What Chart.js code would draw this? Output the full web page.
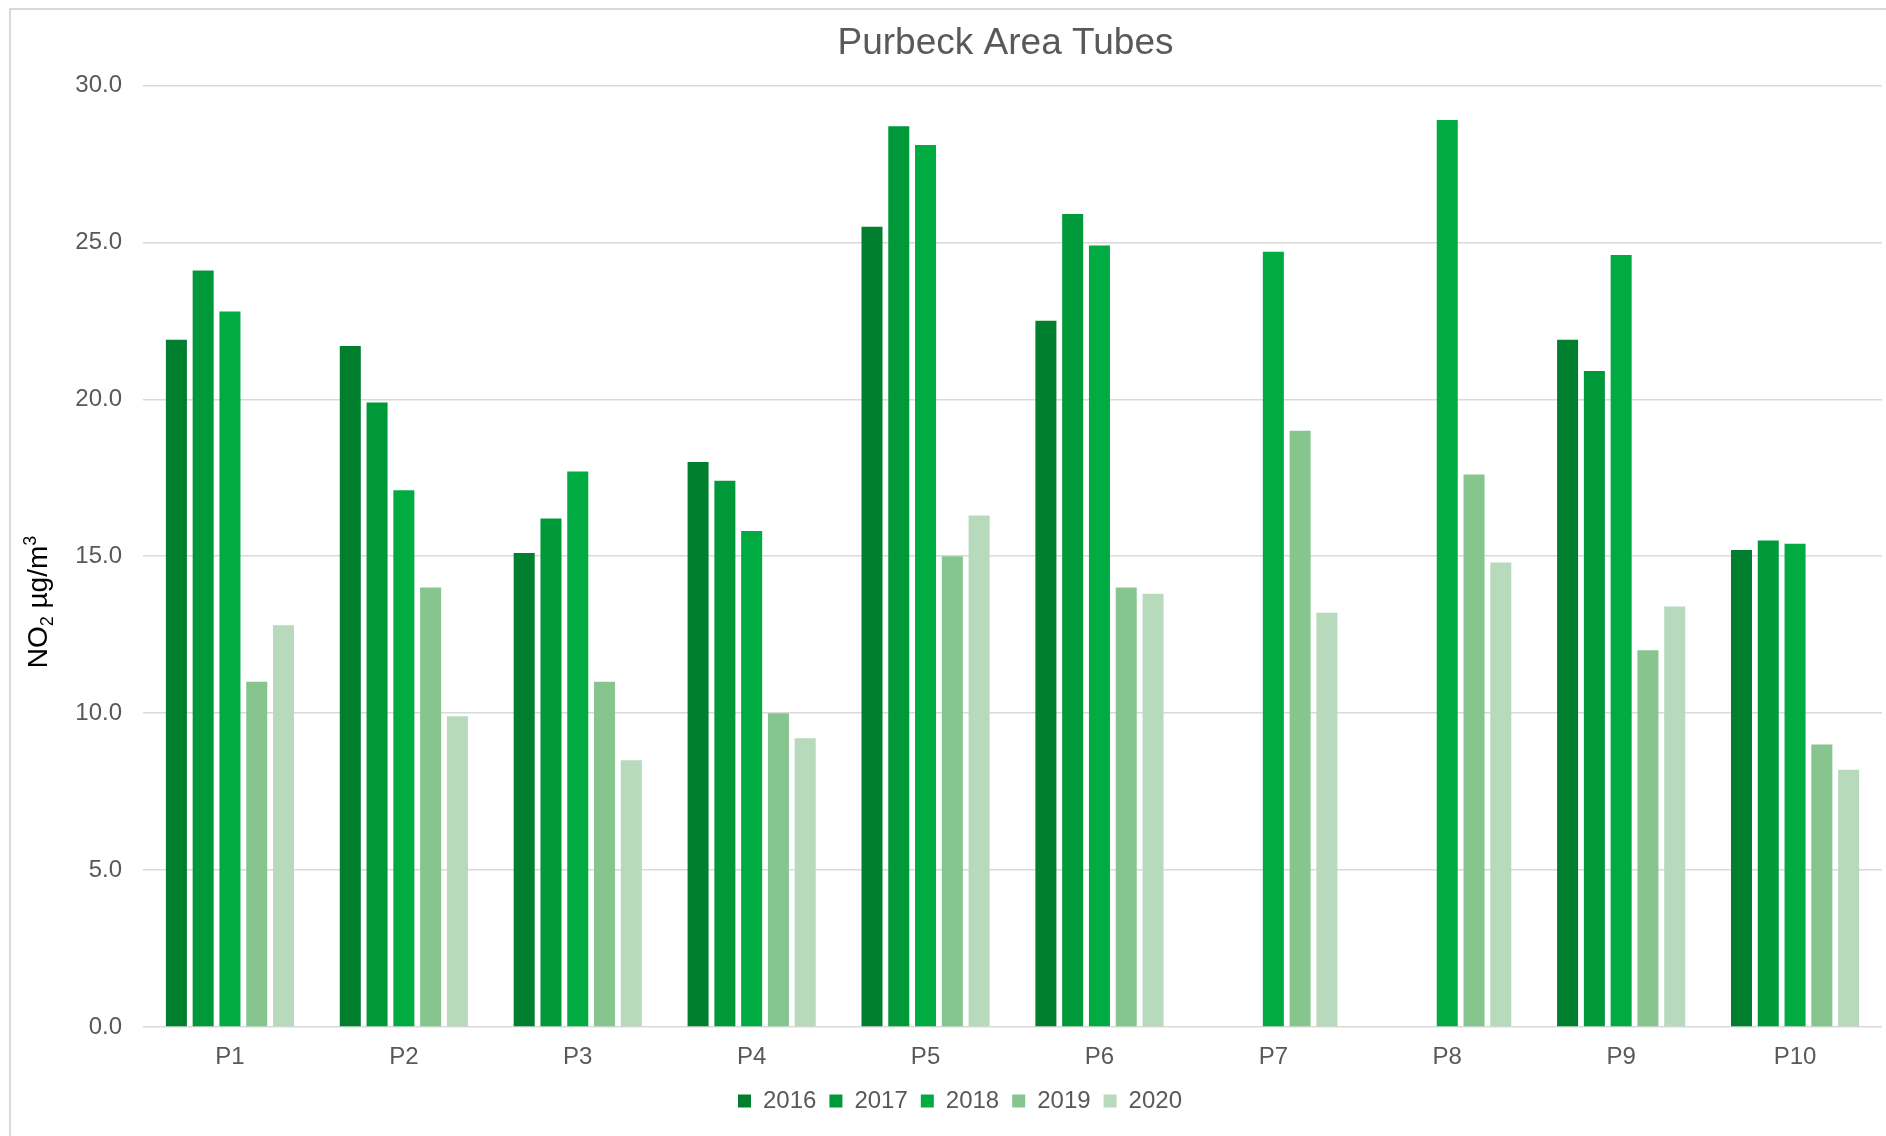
<!DOCTYPE html>
<html>
<head>
<meta charset="utf-8">
<title>Purbeck Area Tubes</title>
<script src="https://cdn.jsdelivr.net/npm/chart.js@4.4.0/dist/chart.umd.min.js"></script>
<style>
    html, body { margin: 0; padding: 0; background: #ffffff; overflow: hidden; }
    #wrap { position: relative; width: 1886px; height: 1136px; }
    #frame {
        position: absolute; left: 9px; top: 8px; width: 1920px; height: 1200px;
        border: 2px solid #d9d9d9; pointer-events: none;
    }
</style>
</head>
<body>
<div id="wrap">
    <canvas id="tubes" width="1886" height="1136"></canvas>
    <div id="frame"></div>
</div>
<script>
'use strict';

// Annual mean NO2 per diffusion tube site
const sites = ['P1', 'P2', 'P3', 'P4', 'P5', 'P6', 'P7', 'P8', 'P9', 'P10'];

const no2_2016 = [21.9, 21.7, 15.1, 18.0, 25.5, 22.5, null, null, 21.9, 15.2];
const no2_2017 = [24.1, 19.9, 16.2, 17.4, 28.7, 25.9, null, null, 20.9, 15.5];
const no2_2018 = [22.8, 17.1, 17.7, 15.8, 28.1, 24.9, 24.7, 28.9, 24.6, 15.4];
const no2_2019 = [11.0, 14.0, 11.0, 10.0, 15.0, 14.0, 19.0, 17.6, 12.0, 9.0];
const no2_2020 = [12.8, 9.9, 8.5, 9.2, 16.3, 13.8, 13.2, 14.8, 13.4, 8.2];

const yTicks = [0, 5, 10, 15, 20, 25, 30];

const FONT = "'Liberation Sans', Arial, sans-serif";
const GREY = '#595959';


function yearSet(label, data, colour) {
    return {
        label: label,
        data: data,
        backgroundColor: colour,
        borderWidth: 0,
        categoryPercentage: 0.77,
        barPercentage: 0.785
    };
}


// Rotated axis title with a real subscript / superscript
const axisTitlePlugin = {
    id: 'axisTitle',
    afterDraw(chart, args, opts) {
        const ctx = chart.ctx;
        const parts = [
            { t: 'NO', size: 28, dy: 0 },
            { t: '2', size: 18, dy: 6 },
            { t: ' µg/m', size: 28, dy: 0 },
            { t: '3', size: 18, dy: -11 }
        ];
        ctx.save();
        let total = 0;
        parts.forEach((p) => {
            ctx.font = p.size + 'px ' + FONT;
            p.w = ctx.measureText(p.t).width;
            total += p.w;
        });
        ctx.translate(opts.x, opts.y);
        ctx.rotate(-Math.PI / 2);
        ctx.fillStyle = '#000000';
        ctx.textBaseline = 'alphabetic';
        ctx.textAlign = 'left';
        let x = -total / 2;
        parts.forEach((p) => {
            ctx.font = p.size + 'px ' + FONT;
            ctx.fillText(p.t, x, p.dy);
            x += p.w;
        });
        ctx.restore();
    }
};

// Nudge the title and legend boxes sideways after layout
const boxShiftPlugin = {
    id: 'boxShift',
    afterLayout(chart, args, opts) {
        const legend = chart.legend;
        if (legend) {
            legend.left += opts.legendDx;
            legend.right += opts.legendDx;
            if (legend.legendHitBoxes) {
                legend.legendHitBoxes.forEach((b) => { b.left += opts.legendDx; });
            }
        }
        const title = chart.titleBlock;
        if (title) {
            title.left += opts.titleDx;
            title.right += opts.titleDx;
        }
    }
};


new Chart(document.getElementById('tubes').getContext('2d'), {
    type: 'bar',
    data: {
        labels: sites,
        datasets: [
            yearSet('2016', no2_2016, '#00802f'),
            yearSet('2017', no2_2017, '#00993a'),
            yearSet('2018', no2_2018, '#00ab41'),
            yearSet('2019', no2_2019, '#87c58e'),
            yearSet('2020', no2_2020, '#b6dabb')
        ]
    },
    options: {
        responsive: false,
        animation: false,
        events: [],
        layout: { padding: { top: 12, right: 4, bottom: 13, left: 0 } },
        plugins: {
            title: {
                display: true,
                text: 'Purbeck Area Tubes',
                color: GREY,
                fullSize: false,
                font: { family: FONT, size: 37, weight: 'normal' },
                padding: { top: 10, bottom: 19 }
            },
            legend: {
                position: 'bottom',
                labels: {
                    color: GREY,
                    boxWidth: 13,
                    boxHeight: 13,
                    padding: 13,
                    font: { family: FONT, size: 24 }
                }
            },
            tooltip: { enabled: false },
            axisTitle: { x: 47, y: 602 },
            boxShift: { legendDx: 19, titleDx: -7 }
        },
        scales: {
            x: {
                grid: { display: false },
                border: { display: false },
                ticks: {
                    color: GREY,
                    padding: 8,
                    font: { family: FONT, size: 24 }
                },
                afterFit(scale) { scale.height = 49; }
            },
            y: {
                min: 0,
                max: 30,
                afterBuildTicks(scale) {
                    scale.ticks = yTicks.map((v) => ({ value: v }));
                },
                grid: { color: '#d9d9d9', lineWidth: 1.5, drawTicks: false },
                border: { display: false },
                ticks: {
                    color: GREY,
                    padding: 21,
                    font: { family: FONT, size: 24 },
                    callback: (v) => v.toFixed(1)
                },
                afterFit(scale) { scale.width = 143; }
            }
        }
    },
    plugins: [axisTitlePlugin, boxShiftPlugin]
});
</script>
</body>
</html>
